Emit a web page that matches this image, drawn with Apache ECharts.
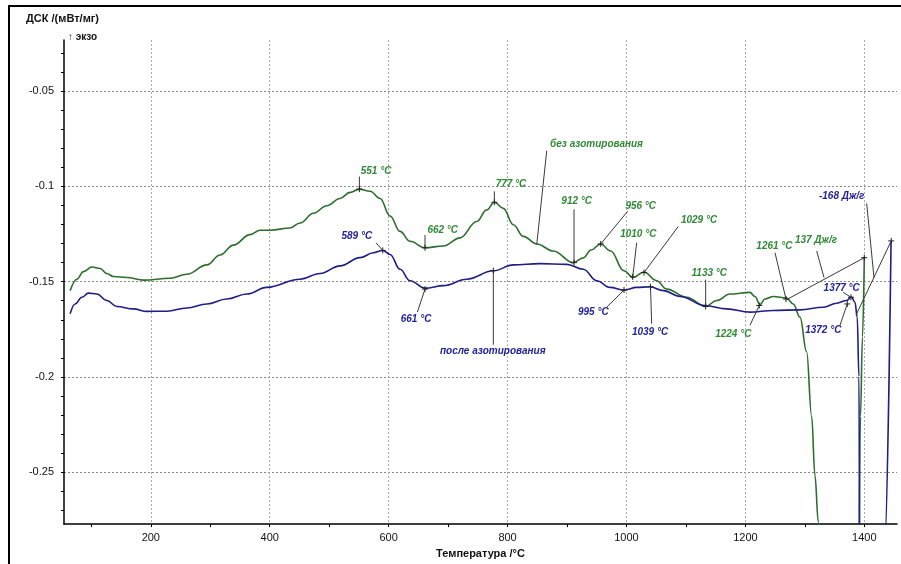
<!DOCTYPE html>
<html>
<head>
<meta charset="utf-8">
<script src="https://cdn.jsdelivr.net/npm/echarts@6/dist/echarts.min.js"></script>
<style>
html,body{margin:0;padding:0;background:#fff;}
#chart{width:901px;height:564px;}
</style>
</head>
<body>
<div id="chart"></div>
<script>
// ---- Data ----
const xTickValues = [100,200,300,400,500,600,700,800,900,1000,1100,1200,1300,1400];
const xLabelValues = [200,400,600,800,1000,1200,1400];
const yTickValues = [-0.03,-0.04,-0.05,-0.06,-0.07,-0.08,-0.09,-0.1,-0.11,-0.12,-0.13,-0.14,-0.15,-0.16,-0.17,-0.18,-0.19,-0.2,-0.21,-0.22,-0.23,-0.24,-0.25,-0.26,-0.27];
const yLabelValues = [-0.05,-0.1,-0.15,-0.2,-0.25];

// без азотирования (green)
const greenTemp = [64.3,75.6,86.7,100.8,114.7,126,137.1,159.6,187.6,232.5,260.5,294.2,316.5,338.9,367,383.8,400.6,434.2,451,473.4,495.9,518.3,535.1,550.8,568.8,585.6,602.4,619.2,636,661.2,692,720.1,748.2,765,777.8,792.9,809.7,826.5,849.1,877,910.6,927.4,940.4,956.6,973.4,995.7,1011.5,1029.3,1050.8,1067.6,1101.3,1133.2,1151.7,1174.1,1207.7,1216.1,1224.5,1232.9,1246.9,1269.4,1280.5,1291.8,1303,1311.4,1317,1322.6,1330,1390,1393.6,1396.9,1400];
const greenDsc = [-0.1547,-0.1487,-0.1447,-0.1423,-0.1431,-0.1457,-0.1473,-0.1478,-0.1492,-0.1482,-0.1461,-0.1412,-0.136,-0.1308,-0.1253,-0.123,-0.123,-0.1218,-0.1192,-0.1141,-0.1101,-0.1063,-0.1031,-0.1014,-0.1025,-0.1063,-0.1155,-0.1236,-0.1288,-0.1322,-0.1313,-0.127,-0.1184,-0.1123,-0.1083,-0.1115,-0.1201,-0.1262,-0.1302,-0.1339,-0.14,-0.1375,-0.1334,-0.1302,-0.1339,-0.1443,-0.1478,-0.1449,-0.1495,-0.1539,-0.1582,-0.163,-0.1599,-0.1565,-0.1556,-0.1578,-0.162,-0.1591,-0.1578,-0.1586,-0.1617,-0.1686,-0.1868,-0.2205,-0.2517,-0.276,-0.32,-0.32,-0.2206,-0.179,-0.1374];

// после азотирования (blue)
const blueTemp = [64.3,72.7,84,95.1,109.2,126,142.8,170.7,193.3,226.9,260.5,294.2,327.8,361.4,395.1,451,484.7,518.3,551.9,574.3,590.1,602.4,619.2,636,661.2,692,731.4,776.1,809.7,854.6,899.5,927.4,950,972.3,995.9,1017.2,1039.6,1062,1090,1132,1168.5,1207.7,1246.9,1291.8,1331,1353.5,1370.3,1378.7,1384.3,1388.1,1391,1392.5,1430,1434,1445];
const blueDsc = [-0.1669,-0.1617,-0.1582,-0.156,-0.1565,-0.1599,-0.163,-0.1643,-0.1656,-0.1655,-0.1638,-0.1617,-0.1591,-0.1565,-0.153,-0.1487,-0.1457,-0.1417,-0.1374,-0.1348,-0.1336,-0.1357,-0.1435,-0.1495,-0.1534,-0.1521,-0.1487,-0.1443,-0.1412,-0.1405,-0.1409,-0.1435,-0.1495,-0.153,-0.1544,-0.153,-0.1527,-0.1547,-0.1577,-0.1625,-0.1643,-0.166,-0.1651,-0.1648,-0.1634,-0.1613,-0.1599,-0.1581,-0.1608,-0.1686,-0.1998,-0.32,-0.32,-0.29,-0.1288];

// annotations: text, text position (T, v), pointer from (T,v) to (T,v), colour group, cross at end
const annText  = ['551 °C','777 °C','662 °C','912 °C','956 °C','1010 °C','1029 °C','без азотирования','1133 °C','1224 °C','1261 °C','137 Дж/г','',
                  '589 °C','661 °C','после азотирования','995 °C','1039 °C','1372 °C','1377 °C','-168 Дж/г',''];
const annTextT = [578.8,805.8,691,916.3,1024,1019.9,1122,949.6,1139.3,1179.6,1248.9,1318.7,0, 546.4,646.1,775.1,944.2,1039.6,1331,1362,1362,0];
const annTextV = [-0.0921,-0.099,-0.1232,-0.1077,-0.1103,-0.1253,-0.1177,-0.0781,-0.1456,-0.1778,-0.1314,-0.1284,0, -0.1262,-0.1698,-0.1863,-0.166,-0.1764,-0.1755,-0.1534,-0.1054,0];
const annFromT = [550.8,777.8,661.2,911.8,1002.1,1017.2,1087.2,865.9,1133.2,1207.7,1249.8,1319.9,1268.3, 578.8,648.3,776.1,966.8,1042.4,1359.1,1364.6,1404,1386];
const annFromV = [-0.0948,-0.1026,-0.1255,-0.112,-0.113,-0.1296,-0.121,-0.0812,-0.1489,-0.1729,-0.1348,-0.1339,-0.1596, -0.1296,-0.166,-0.1831,-0.1634,-0.1721,-0.1729,-0.1556,-0.1089,-0.1676];
const annToT   = [550.8,777.8,661.2,911.8,956.7,1010.5,1029.5,849.1,1133.2,1223.3,1268.3,1332.2,1400, 590.1,661.2,776.1,995.9,1040.4,1371.4,1377.6,1416.3,1445.3];
const annToV   = [-0.1014,-0.1083,-0.1322,-0.14,-0.1302,-0.1475,-0.1452,-0.1305,-0.163,-0.1625,-0.1591,-0.1478,-0.1374, -0.1336,-0.1539,-0.1442,-0.1544,-0.1527,-0.1617,-0.1582,-0.1479,-0.1286];
const annGroup = [0,0,0,0,0,0,0,0,0,0,0,0,0, 1,1,1,1,1,1,1,1,1];
const annCross = [1,1,1,1,1,1,1,0,1,1,1,0,1, 1,1,1,1,1,1,1,0,1];

const annData = annText.map((t,i)=>[annFromT[i],annFromV[i],annToT[i],annToV[i],annTextT[i],annTextV[i]]);

const GREEN_LINE = '#2c6e2c', BLUE_LINE = '#1e1e86';
const GREEN_TEXT = '#2f8a35', BLUE_TEXT = '#22229a';
const FONT = '"Liberation Sans", Arial, sans-serif';

const chart = echarts.init(document.getElementById('chart'), null, {renderer:'canvas'});
const XMIN = 54, XMAX = 1455, YMIN = -0.2773, YMAX = -0.0231;

chart.setOption({
  animation:false,
  backgroundColor:'#fff',
  grid:{left:64,right:4,top:40,bottom:35,containLabel:false},
  xAxis:[{
    type:'value',min:XMIN,max:XMAX,position:'bottom',
    name:'Температура /°C',nameLocation:'middle',nameGap:18,
    nameTextStyle:{fontFamily:FONT,fontSize:11,fontWeight:'bold',color:'#111'},
    axisLine:{show:true,onZero:false,lineStyle:{color:'#000',width:1.5}},
    axisTick:{show:true,customValues:xTickValues,length:3,lineStyle:{color:'#000'}},
    axisLabel:{customValues:xLabelValues,margin:8,fontFamily:FONT,fontSize:11,color:'#111',formatter:v=>String(v)},
    splitLine:{show:false}
  },{
    type:'value',min:XMIN,max:XMAX,position:'top',
    axisLine:{show:false},axisTick:{show:false,customValues:xLabelValues},axisLabel:{show:false,customValues:xLabelValues},
    splitLine:{show:true,lineStyle:{color:'#aaa',type:[2,2],width:1}}
  }],
  yAxis:[{
    type:'value',min:YMIN,max:YMAX,position:'left',
    axisLine:{show:true,onZero:false,lineStyle:{color:'#000',width:1.5}},
    axisTick:{show:true,customValues:yTickValues,length:3,lineStyle:{color:'#000'}},
    axisLabel:{customValues:yLabelValues,margin:10,fontFamily:FONT,fontSize:11,color:'#111',formatter:v=>String(+v.toFixed(3))},
    splitLine:{show:false}
  },{
    type:'value',min:YMIN,max:YMAX,position:'right',
    axisLine:{show:false},axisTick:{show:false,customValues:yLabelValues},axisLabel:{show:false,customValues:yLabelValues},
    splitLine:{show:true,lineStyle:{color:'#888',type:[2,2],width:1}}
  }],
  graphic:[
    {type:'rect',shape:{x:9,y:6,width:1000,height:1000},style:{fill:'none',stroke:'#000',lineWidth:2},silent:true,z:100},
    {type:'text',left:26,top:13,style:{text:'ДСК /(мВт/мг)',font:'bold 11px '+FONT,fill:'#111'}},
    {type:'text',left:68,top:32,style:{text:'↑ экзо',font:'bold 10px '+FONT,fill:'#111'}}
  ],
  series:[
    {type:'line',name:'без азотирования',xAxisIndex:0,yAxisIndex:0,data:greenTemp.map((t,i)=>[t,greenDsc[i]]),
     showSymbol:false,symbol:'none',smooth:0.4,smoothMonotone:'x',clip:true,
     lineStyle:{color:GREEN_LINE,width:1.6},z:3},
    {type:'line',name:'после азотирования',xAxisIndex:0,yAxisIndex:0,data:blueTemp.map((t,i)=>[t,blueDsc[i]]),
     showSymbol:false,symbol:'none',smooth:0.4,smoothMonotone:'x',clip:true,
     lineStyle:{color:BLUE_LINE,width:1.6},z:4},
    {type:'custom',xAxisIndex:0,yAxisIndex:0,data:annData,clip:false,z:5,
     renderItem:function(params,api){
       const i = params.dataIndex;
       const p1 = api.coord([api.value(0),api.value(1)]);
       const p2 = api.coord([api.value(2),api.value(3)]);
       const pl = api.coord([api.value(4),api.value(5)]);
       const children = [{type:'line',shape:{x1:p1[0],y1:p1[1],x2:p2[0],y2:p2[1]},style:{stroke:'#3a3a3a',lineWidth:1}}];
       if (annCross[i]) {
         const s=3;
         children.push({type:'line',shape:{x1:p2[0]-s,y1:p2[1],x2:p2[0]+s,y2:p2[1]},style:{stroke:'#222',lineWidth:1}});
         children.push({type:'line',shape:{x1:p2[0],y1:p2[1]-s,x2:p2[0],y2:p2[1]+s},style:{stroke:'#222',lineWidth:1}});
       }
       if (annText[i]) {
         children.push({type:'text',x:pl[0],y:pl[1],style:{text:annText[i],font:'italic bold 10px '+FONT,
           fill:annGroup[i]?BLUE_TEXT:GREEN_TEXT,align:'center',verticalAlign:'middle'}});
       }
       return {type:'group',children:children};
     }}
  ]
});
</script>
</body>
</html>
